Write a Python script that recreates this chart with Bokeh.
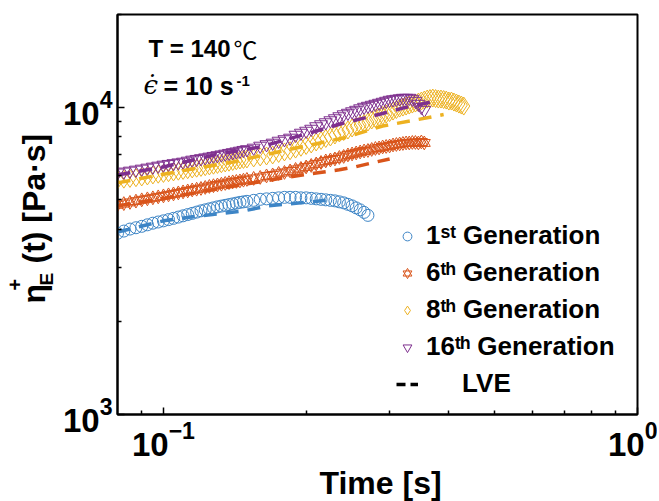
from bokeh.plotting import figure
from bokeh.layouts import row, column
from bokeh.models import Range1d, FixedTicker, Legend, LegendItem, Label
from bokeh.core.properties import value
from bokeh.embed import file_html
from bokeh.resources import INLINE
import math

# ---- data ----
t = [0.080, 0.0825, 0.085, 0.0875, 0.090, 0.0925, 0.095, 0.0975, 0.100, 0.1025,
     0.105, 0.1075, 0.110, 0.1125, 0.115, 0.1175, 0.120, 0.1225, 0.125, 0.1275,
     0.130, 0.1325, 0.135, 0.1375, 0.140, 0.1425, 0.145, 0.1475, 0.150,
     0.155, 0.160, 0.165, 0.170, 0.175, 0.180, 0.185, 0.190, 0.195, 0.200,
     0.205, 0.210, 0.215, 0.220, 0.225, 0.230, 0.235, 0.240, 0.245, 0.250,
     0.255, 0.260, 0.265, 0.270, 0.275, 0.280, 0.285, 0.290, 0.295, 0.300,
     0.305, 0.310, 0.315, 0.320, 0.325, 0.330, 0.335, 0.340, 0.345, 0.350,
     0.355, 0.360, 0.365, 0.370, 0.375, 0.380, 0.385, 0.390, 0.395, 0.400,
     0.405, 0.410, 0.415, 0.420, 0.425, 0.430]

gen1 = [3885, 3950, 4010, 4050, 4093, 4140, 4190, 4228, 4265, 4305,
        4345, 4387, 4428, 4470, 4510, 4553, 4596, 4631, 4666, 4700,
        4736, 4763, 4790, 4816, 4842, 4870, 4897, 4916, 4935,
        4972, 5010, 5028, 5047, 5066, 5085, 5085, 5085, 5066, 5066,
        5047, 5028, 5010, 4991, 4972, 4953, 4917, 4880, 4826, 4771,
        4700, 4631, 4544, 4443]

gen6 = [4808, 4852, 4897, 4944, 4991, 5028, 5066, 5103, 5141, 5180,
        5218, 5257, 5297, 5336, 5376, 5406, 5437, 5477, 5518, 5549,
        5580, 5612, 5645, 5677, 5709, 5730, 5751, 5783, 5816,
        5860, 5904, 5970, 6015, 6083, 6129, 6198, 6268, 6315, 6386,
        6458, 6531, 6604, 6679, 6729, 6780, 6857, 6909, 6986, 7039,
        7092, 7145, 7197, 7224, 7279, 7334, 7362, 7417, 7445, 7472,
        7529, 7557, 7586, 7614, 7643, 7643, 7672, 7672, 7643, 7700,
        7643]

gen8 = [5795, 5828, 5860, 5892, 5925, 5970, 6015, 6049, 6083, 6117,
        6152, 6186, 6221, 6256, 6292, 6327, 6363, 6398, 6434, 6470,
        6507, 6543, 6580, 6617, 6654, 6691, 6729, 6754, 6780,
        6831, 6883, 6933, 6986, 7065, 7145, 7210, 7300, 7400, 7501,
        7586, 7700, 7786, 7904, 7992, 8112, 8234, 8327, 8421, 8548,
        8644, 8742, 8840, 8940, 9075, 9177, 9280, 9385, 9490, 9597,
        9705, 9814, 9925, 10000, 10075, 10151, 10227, 10304, 10381, 10459,
        10537, 10617, 10656, 10696, 10656, 10617, 10617, 10577, 10537, 10459,
        10459, 10381, 10304, 10227, 10151, 10075]

gen16 = [6111, 6155, 6198, 6245, 6292, 6339, 6386, 6434, 6482, 6518,
         6555, 6592, 6629, 6679, 6729, 6767, 6805, 6844, 6883, 6921,
         6959, 6999, 7039, 7078, 7118, 7157, 7197, 7238, 7279,
         7362, 7472, 7557, 7643, 7756, 7844, 7934, 8112, 8234, 8358,
         8484, 8644, 8774, 8906, 9040, 9177, 9315, 9455, 9561, 9669,
         9776, 9888, 10000, 10075, 10151, 10227, 10304, 10381, 10459, 10537,
         10577, 10617, 10656, 10696, 10696, 10696, 10617, 10459, 10227, 10000,
         9776]

lve1_t = [0.080, 0.100, 0.115, 0.148, 0.166, 0.195, 0.225]
lve1 = [3922, 4265, 4394, 4596, 4771, 4880, 4991]
lve6_t = [0.080, 0.100, 0.120, 0.150, 0.180, 0.210, 0.235, 0.255, 0.275, 0.300]
lve6 = [4771, 5047, 5297, 5623, 5893, 6100, 6250, 6400, 6580, 6780]
lve8_t = [0.080, 0.100, 0.140, 0.195, 0.240, 0.290, 0.340, 0.390]
lve8 = [5667, 6048, 6629, 7417, 7934, 8677, 9073, 9455]
lve16_t = [0.080, 0.100, 0.128, 0.160, 0.200, 0.240, 0.287, 0.320, 0.370]
lve16 = [6015, 6386, 6986, 7417, 8173, 8872, 9490, 9925, 10420]

x_major = [0.1, 1.0]
x_minor = [0.09, 0.2, 0.3, 0.4, 0.5, 0.6, 0.7, 0.8, 0.9]
y_major = [1000, 10000]
y_minor = [2000, 3000, 4000, 5000, 6000, 7000, 8000, 9000, 20000]

NB = "\u00a0"
legend_labels = ["1\u02e2\u1d57 Generation", "6\u1d57\u02b0 Generation",
                 "8\u1d57\u02b0 Generation", "16\u1d57\u02b0 Generation",
                 NB * 5 + "LVE"]

BLUE, ORANGE, YELLOW, PURPLE = "#3D85C6", "#D9541A", "#EDB120", "#7E2F8E"
FONT = "Liberation Sans"

LEFT_W = 56          # width of the y-title strip
MAIN_W = 601
MAIN_H = 465
XLAB_H = 36

p = figure(width=MAIN_W, height=MAIN_H, x_axis_type="log", y_axis_type="log",
           x_range=Range1d(0.08, 1.0), y_range=Range1d(1000, 20000),
           output_backend="svg", toolbar_location=None,
           min_border_left=61, min_border_right=20, min_border_top=14,
           min_border_bottom=MAIN_H - 414)
p.xgrid.visible = False
p.ygrid.visible = False
p.outline_line_color = "black"
p.outline_line_width = 2
p.outline_line_alpha = 1
p.background_fill_color = "white"
p.border_fill_color = "white"

p.xaxis.ticker = FixedTicker(ticks=x_major, minor_ticks=x_minor)
p.yaxis.ticker = FixedTicker(ticks=y_major, minor_ticks=y_minor)
for ax in (p.xaxis[0], p.yaxis[0]):
    ax.axis_line_width = 2
    ax.axis_line_color = "black"
    ax.major_tick_in = 7
    ax.major_tick_out = 0
    ax.minor_tick_in = 4
    ax.minor_tick_out = 0
    ax.major_tick_line_width = 1.5
    ax.minor_tick_line_width = 1.5
    ax.major_label_text_font = FONT
    ax.major_label_text_font_style = "bold"
    ax.major_label_text_font_size = "33px"
    ax.major_label_text_color = "black"
p.xaxis.major_label_standoff = 6
p.yaxis.major_label_standoff = 5

# measured curves
r1 = p.scatter(t[:len(gen1)], gen1, marker="circle", size=12, fill_color=None,
               line_color=BLUE, line_width=1)
r6a = p.scatter(t[:len(gen6)], gen6, marker="triangle", size=12, fill_color=None,
                line_color=ORANGE, line_width=1)
r6b = p.scatter(t[:len(gen6)], gen6, marker="inverted_triangle", size=12, fill_color=None,
                line_color=ORANGE, line_width=1)
r8 = p.scatter(t[:len(gen8)], gen8, marker="diamond", size=18, fill_color=None,
               line_color=YELLOW, line_width=1)
r16 = p.scatter(t[:len(gen16)], gen16, marker="inverted_triangle", size=13, fill_color=None,
                line_color=PURPLE, line_width=1)

# LVE predictions
for xs, ys, c in ((lve1_t, lve1, BLUE), (lve6_t, lve6, ORANGE),
                  (lve8_t, lve8, YELLOW), (lve16_t, lve16, PURPLE)):
    p.line(xs, ys, line_color=c, line_width=3.5, line_dash="13 9")

# legend-only renderer (a single point draws no line in the plot)
rl = p.line(lve1_t[:1], lve1[:1], line_color="black", line_width=3.5, line_dash="9 5")

legend = Legend(items=[
    LegendItem(label=legend_labels[0], renderers=[r1]),
    LegendItem(label=legend_labels[1], renderers=[r6a, r6b]),
    LegendItem(label=legend_labels[2], renderers=[r8]),
    LegendItem(label=legend_labels[3], renderers=[r16]),
    LegendItem(label=legend_labels[4], renderers=[rl]),
], location=(279, 15), padding=0, margin=0, spacing=6,
   glyph_width=22, glyph_height=28, label_height=28, label_standoff=8,
   border_line_color=None, background_fill_alpha=0,
   label_text_font=FONT, label_text_font_style="bold",
   label_text_font_size="26px", label_text_color="black")
p.add_layout(legend)

# annotations inside the frame (frame-relative screen coordinates)
def lab(text, x, y, size, style="bold", font=FONT):
    p.add_layout(Label(text=text, x=x, y=y, x_units="screen", y_units="screen",
                       text_font=font, text_font_style=style,
                       text_font_size=size, text_color="black",
                       text_align="left", text_baseline="alphabetic"))

lab("T = 140", 31, 366, "24px")
lab("\u2103", 116, 366, "24px", style="normal", font="Noto Sans CJK SC")
lab("\u03f5\u0307", 26, 330, "26px", style="italic", font="DejaVu Serif")
lab("= 10 s", 46, 329, "25px")
lab("-1", 119, 334, "15px")

# y-axis title strip: eta^+_E(t) [Pa.s]
H = MAIN_H + XLAB_H
ylab = figure(width=LEFT_W, height=H, x_range=Range1d(0, LEFT_W),
              y_range=Range1d(0, H), output_backend="svg",
              toolbar_location=None, min_border=0, x_axis_location=None,
              y_axis_location=None, outline_line_color=None)
ylab.grid.visible = False
A = math.pi / 2
for txt, x, yp, size in (("\u03b7", 33, 303, "32px"), ("+", 14, 290, "20px"),
                         ("E", 46, 285, "19px"), ("(t) [Pa\u00b7s]", 33, 263, "32px")):
    ylab.text(x=[x], y=[H - yp], text=[txt], angle=A, text_font=value(FONT),
              text_font_style="bold", text_font_size=size, text_color="black",
              text_align="left", text_baseline="alphabetic")

# x-axis title strip
xlab = figure(width=MAIN_W, height=XLAB_H, x_range=Range1d(0, MAIN_W),
              y_range=Range1d(0, XLAB_H), output_backend="svg",
              toolbar_location=None, min_border=0, x_axis_location=None,
              y_axis_location=None, outline_line_color=None)
xlab.grid.visible = False
xlab.text(x=[377 - LEFT_W - 17], y=[19], text=["Time [s]"], text_font=value(FONT),
          text_font_style="bold", text_font_size="32px", text_color="black",
          text_align="center", text_baseline="alphabetic")

layout = row(ylab, column(p, xlab, spacing=0), spacing=0)
open("out.html", "w").write(file_html(layout, INLINE))
